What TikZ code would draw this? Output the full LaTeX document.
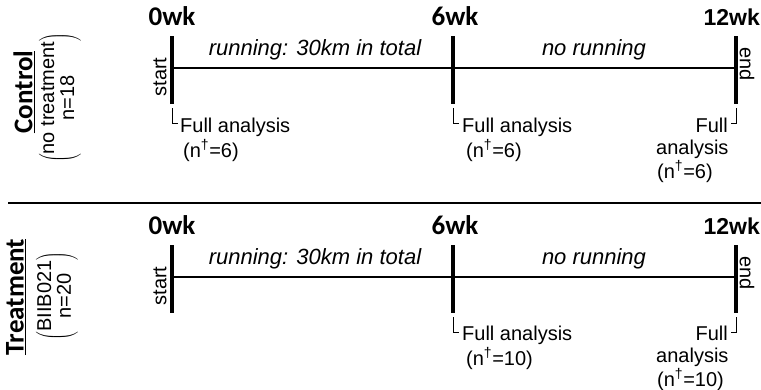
\documentclass[tikz,border=0pt]{standalone}
\usepackage{fontspec}
\setmainfont{Liberation Sans}
\newfontfamily\calibri{Carlito}
\usetikzlibrary{positioning, calc}

\begin{document}
\begin{tikzpicture}[
    x=1pt, y=-1pt,
    week/.style={font=\calibri\fontsize{27}{27}\selectfont\bfseries, inner sep=0pt, anchor=base},
    weekA/.style={font=\fontsize{23}{23}\selectfont\bfseries, inner sep=0pt, anchor=base east},
    phase/.style={font=\fontsize{22}{22}\selectfont\itshape, inner sep=0pt, anchor=base},
    note/.style={font=\fontsize{20}{20}\selectfont, inner sep=0pt},
    edge/.style={font=\fontsize{20}{20}\selectfont, inner sep=0pt},
    group/.style={font=\calibri\fontsize{27}{27}\selectfont\bfseries, rotate=90, inner sep=0pt},
    detail/.style={font=\fontsize{20}{20}\selectfont, rotate=90, inner sep=0pt},
    bar/.style={line width=4pt},
    axis/.style={line width=1.5pt},
    tick/.style={line width=0.8pt},
    divider/.style={line width=2.5pt}
]
    \useasboundingbox (0,0) rectangle (761,389);

    % control row
    \coordinate (a0) at (172,68);
    \coordinate (a6) at (453,68);
    \coordinate (a12) at (736,68);

    \node[group] (ctl) at (24,92) {\underline{Control}};
    \node[detail] (ctlN) at (60,98) {$\left(\hbox{\begin{tabular}{@{}c@{}}no treatment\\ n=18\end{tabular}}\right)$};

    \node[week] (w0) at (172,25) {0wk};
    \node[week] (w6) at (455,25) {6wk};
    \node[weekA] (w12) at (760,25) {12wk};

    \draw[axis] (a0) -- (a12);
    \draw[bar] ($(a0)+(0,-32)$) -- ($(a0)+(0,36)$);
    \draw[bar] ($(a6)+(0,-32)$) -- ($(a6)+(0,36)$);
    \draw[bar] ($(a12)+(0,-32)$) -- ($(a12)+(0,36)$);

    \node[edge, rotate=90] (st) at (160,77) {start};
    \node[edge, rotate=-90] (en) at (747,64) {end};

    \node[phase] (run) at (315,55) {running: 30km in total};
    \node[phase] (rest) at (594,55) {no running};

    \draw[tick] ($(a0)+(0,40)$) |- ++(6,15);
    \draw[tick] ($(a6)+(0,40)$) |- ++(6,15);
    \draw[tick] ($(a12)+(0,40)$) |- ++(-5,15);

    \node[note, anchor=base west] (fa0) at (180,132) {Full analysis};
    \node[note, anchor=base west] (n0) at (183,157) {(n\textsuperscript{†}=6)};
    \node[note, anchor=base west] (fa6) at (462,132) {Full analysis};
    \node[note, anchor=base west] (n6) at (466,157) {(n\textsuperscript{†}=6)};
    \node[note, anchor=base east] (fa12) at (728,132) {Full};
    \node[note, anchor=base west] (an12) at (656,154) {analysis};
    \node[note, anchor=base west] (n12) at (657,178) {(n\textsuperscript{†}=6)};

    % separator
    \coordinate (sepL) at (8,203);
    \coordinate (sepR) at (761,203);
    \draw[divider] (sepL) -- (sepR);

    % treatment row
    \coordinate (b0) at (172,277);
    \coordinate (b6) at (453,277);
    \coordinate (b12) at (736,277);

    \node[group] (trt) at (16,297) {\underline{Treatment}};
    \node[detail] (trtN) at (57,296) {$\left(\hbox{\begin{tabular}{@{}c@{}}BIIB021\\ n=20\end{tabular}}\right)$};

    \node[week] (v0) at (172,234) {0wk};
    \node[week] (v6) at (455,234) {6wk};
    \node[weekA] (v12) at (760,234) {12wk};

    \draw[axis] (b0) -- (b12);
    \draw[bar] ($(b0)+(0,-32)$) -- ($(b0)+(0,36)$);
    \draw[bar] ($(b6)+(0,-32)$) -- ($(b6)+(0,36)$);
    \draw[bar] ($(b12)+(0,-32)$) -- ($(b12)+(0,36)$);

    \node[edge, rotate=90] (st2) at (160,286) {start};
    \node[edge, rotate=-90] (en2) at (747,273) {end};

    \node[phase] (run2) at (315,264) {running: 30km in total};
    \node[phase] (rest2) at (594,264) {no running};

    \draw[tick] ($(b6)+(0,40)$) |- ++(6,15);
    \draw[tick] ($(b12)+(0,40)$) |- ++(-5,15);

    \node[note, anchor=base west] (fb6) at (462,340) {Full analysis};
    \node[note, anchor=base west] (m6) at (466,365) {(n\textsuperscript{†}=10)};
    \node[note, anchor=base east] (fb12) at (728,340) {Full};
    \node[note, anchor=base west] (bn12) at (656,362) {analysis};
    \node[note, anchor=base west] (m12) at (657,386) {(n\textsuperscript{†}=10)};
\end{tikzpicture}
\end{document}
